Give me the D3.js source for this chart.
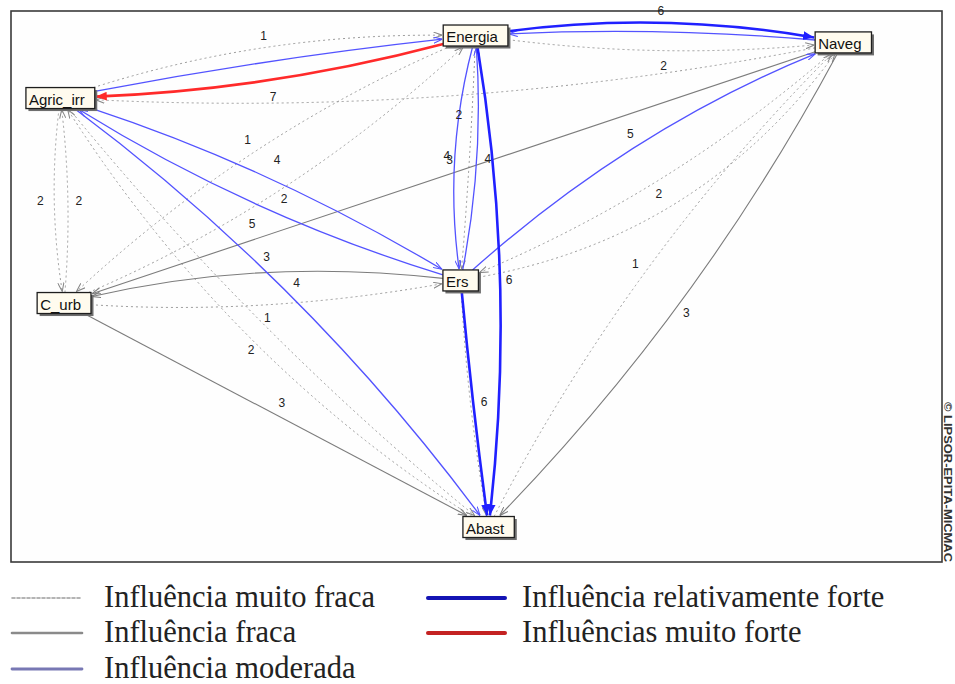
<!DOCTYPE html>
<html><head><meta charset="utf-8">
<script src="https://cdn.jsdelivr.net/npm/d3@7"></script>
<style>body{margin:0;background:#fff;} svg{display:block;}</style>
</head><body>
<svg id="chart" width="955" height="684"></svg>
<script>
// ---------- DATA ----------
const nodeNames = ["Energia", "Naveg", "Agric_irr", "C_urb", "Ers", "Abast"];
// node positions in the graph's own layout space (0-100 on each axis)
const nodeX = [49.9, 89.4, 5.3, 5.7, 48.3, 51.3];
const nodeY = [4.45, 5.7, 15.8, 53.0, 48.9, 93.65];

// influences: source, target, level (0..4), printed value
const edgeFrom  = [0,2,2,1,0,1,0,1,4,1,4,5,1,0,4,0,0,4,2,4,2,4,3,3,2,3,0,3,2,5,4];
const edgeTo    = [2,0,0,2,1,0,1,3,1,4,1,1,5,5,5,4,4,0,4,2,5,3,4,5,3,2,3,0,5,2,5];
const edgeLevel = [4,2,0,0,3,2,0,1,2,0,0,0,1,3,3,0,2,2,2,2,2,1,0,1,0,0,0,0,0,0,0];
const edgeValue = ["7","","1","2","6","","","3","5","2","","1","3","6","6","2","4","4","4","5","4","3","","3","2","2","1","2","1","2",""];

const levelNames = ["Influência muito fraca", "Influência fraca", "Influência moderada",
                    "Influência relativamente forte", "Influências muito forte"];
const copyright = "© LIPSOR-EPITA-MICMAC";

// ---------- LAYOUT / STYLE (not data) ----------
const edgeBend = [0.055,0.02,0.08,0.06,0.076,-0.033,-0.054,0,0.085,0.08,-0.2,0.077,0.07,0.07,-0.01,
                  0.01,-0.1,-0.065,0.055,0.064,0.073,-0.086,-0.06,0,-0.07,-0.05,-0.086,-0.086,-0.05,0.11,-0.03];
const labelT   = [0.5,0.5,0.5,0.21,0.5,0.5,0.5,0.5,0.5,0.53,0.5,0.5,0.52,0.5,0.5,
                  0.31,0.5,0.5,0.5,0.485,0.49,0.49,0.5,0.5,0.5,0.5,0.5,0.485,0.5,0.48,0.5];
const labelOff = [17,0,12,-7,12,0,0,-13,14,12,0,13,11,9,11,
                  -13,-8,-11,20,20,13,-15,0,13,-14,-11,-14,-10,7,8,0];

const lineStyle = [
  {stroke:"#9a9a9a", width:1,   dash:"2,3", arrow:"open"},
  {stroke:"#7c7c7c", width:1.1, dash:null,  arrow:"open"},
  {stroke:"#5353ff", width:1.3, dash:null,  arrow:"open"},
  {stroke:"#2020ff", width:2.6, dash:null,  arrow:"fill"},
  {stroke:"#ff2a2a", width:2.6, dash:null,  arrow:"fill"}
];
const legendStyle = [
  {stroke:"#9c9c9c", width:1.6, dash:"3,2"},
  {stroke:"#8a8a8a", width:2.6, dash:null},
  {stroke:"#7878b4", width:2.8, dash:null},
  {stroke:"#1414b4", width:4,   dash:null},
  {stroke:"#c42222", width:4,   dash:null}
];

const svg = d3.select("#chart");
const frame = {x0:11, x1:942, y0:11, y1:562};
const x = d3.scaleLinear().domain([0,100]).range([frame.x0, frame.x1]);
const y = d3.scaleLinear().domain([0,100]).range([frame.y0, frame.y1]);

// frame
svg.append("rect").attr("x",frame.x0).attr("y",frame.y0)
  .attr("width",frame.x1-frame.x0).attr("height",frame.y1-frame.y0)
  .attr("fill","#fefefe").attr("stroke","#3a3a3a").attr("stroke-width",1.6);

// markers
const defs = svg.append("defs");
lineStyle.forEach((s,i)=>{
  const m = defs.append("marker").attr("id","arr"+i)
    .attr("viewBox","0 0 10 8").attr("refX",10).attr("refY",4)
    .attr("markerUnits","userSpaceOnUse")
    .attr("markerWidth", s.arrow==="fill"?11:9).attr("markerHeight", s.arrow==="fill"?9:7)
    .attr("orient","auto");
  if (s.arrow==="fill") m.append("path").attr("d","M0,0L10,4L0,8Z").attr("fill",s.stroke);
  else m.append("path").attr("d","M0,0.5L10,4L0,7.5").attr("fill","none").attr("stroke",s.stroke==="#9a9a9a"?"#888":s.stroke).attr("stroke-width",1.2);
});

// nodes: measure text to size boxes
const nodeFont = "15px Arial, 'Liberation Sans', sans-serif";
const measure = svg.append("text").style("font",nodeFont).attr("opacity",0);
const nodes = nodeNames.map((n,i)=>{
  measure.text(n);
  const tw = measure.node().getComputedTextLength();
  return {name:n, x:x(nodeX[i]), y:y(nodeY[i]), w:tw+13, h:21, tw};
});
measure.remove();

function boxExit(nd, ux, uy, pad){
  const hw = nd.w/2 + pad, hh = nd.h/2 + pad;
  const tx = Math.abs(ux) < 1e-9 ? Infinity : hw/Math.abs(ux);
  const ty = Math.abs(uy) < 1e-9 ? Infinity : hh/Math.abs(uy);
  const t = Math.min(tx,ty);
  return [nd.x+ux*t, nd.y+uy*t];
}

const edges = edgeFrom.map((f,i)=>{
  const s = nodes[f], t = nodes[edgeTo[i]];
  const dx = t.x-s.x, dy = t.y-s.y, L = Math.hypot(dx,dy);
  const nx = dy/L, ny = -dx/L;
  const cx = (s.x+t.x)/2 + nx*edgeBend[i]*L, cy = (s.y+t.y)/2 + ny*edgeBend[i]*L;
  const p1 = boxExit(s, cx-s.x, cy-s.y, 0);
  const p2 = boxExit(t, cx-t.x, cy-t.y, 1);
  const tt = labelT[i];
  const bx = (1-tt)*(1-tt)*p1[0] + 2*tt*(1-tt)*cx + tt*tt*p2[0];
  const by = (1-tt)*(1-tt)*p1[1] + 2*tt*(1-tt)*cy + tt*tt*p2[1];
  return {i, level:edgeLevel[i], value:edgeValue[i],
    d:`M${p1[0]},${p1[1]}Q${cx},${cy} ${p2[0]},${p2[1]}`,
    lx: bx + nx*labelOff[i], ly: by + ny*labelOff[i]};
});

// draw edges, weakest first
const order = edges.slice().sort((a,b)=>a.level-b.level);
svg.append("g").selectAll("path").data(order).join("path")
  .attr("d",d=>d.d).attr("fill","none")
  .attr("stroke",d=>lineStyle[d.level].stroke)
  .attr("stroke-width",d=>lineStyle[d.level].width)
  .attr("stroke-dasharray",d=>lineStyle[d.level].dash)
  .attr("marker-end",d=>`url(#arr${d.level})`);

// edge labels
svg.append("g").selectAll("text").data(edges.filter(e=>e.value!=="")).join("text")
  .attr("x",d=>d.lx).attr("y",d=>d.ly)
  .attr("text-anchor","middle").attr("dominant-baseline","central")
  .style("font","12px Arial, 'Liberation Sans', sans-serif").attr("fill","#222")
  .text(d=>d.value);

// node boxes
const ng = svg.append("g").selectAll("g").data(nodes).join("g");
ng.append("rect").attr("x",d=>d.x-d.w/2+2.5).attr("y",d=>d.y-d.h/2+2.5)
  .attr("width",d=>d.w).attr("height",d=>d.h).attr("fill","#6e6e6e");
ng.append("rect").attr("x",d=>d.x-d.w/2).attr("y",d=>d.y-d.h/2)
  .attr("width",d=>d.w).attr("height",d=>d.h).attr("fill","#fffbee")
  .attr("stroke","#1e1e1e").attr("stroke-width",1.3);
ng.append("text").attr("x",d=>d.x-d.w/2+3).attr("y",d=>d.y+1)
  .attr("dominant-baseline","central").style("font",nodeFont).attr("fill","#111")
  .text(d=>d.name);

// copyright (vertical)
svg.append("text").attr("transform","translate(944,402) rotate(90)")
  .style("font","bold 10px Arial, 'Liberation Sans', sans-serif").attr("fill","#333")
  .attr("textLength",160).attr("lengthAdjust","spacingAndGlyphs")
  .text(copyright);

// legend
const legPos = [
  {x1:12,x2:82,y:598,tx:104},{x1:12,x2:82,y:633,tx:104},{x1:12,x2:82,y:669,tx:104},
  {x1:428,x2:505,y:598,tx:522},{x1:428,x2:505,y:633,tx:522}
];
const lg = svg.append("g").selectAll("g").data(levelNames).join("g");
lg.append("line").attr("x1",(d,i)=>legPos[i].x1).attr("x2",(d,i)=>legPos[i].x2)
  .attr("y1",(d,i)=>legPos[i].y).attr("y2",(d,i)=>legPos[i].y)
  .attr("stroke",(d,i)=>legendStyle[i].stroke).attr("stroke-width",(d,i)=>legendStyle[i].width)
  .attr("stroke-dasharray",(d,i)=>legendStyle[i].dash).attr("stroke-linecap","round");
lg.append("text").attr("x",(d,i)=>legPos[i].tx).attr("y",(d,i)=>legPos[i].y+9)
  .style("font","30.5px 'Liberation Serif', 'Times New Roman', serif").attr("fill","#222")
  .text(d=>d);
</script>
</body></html>
